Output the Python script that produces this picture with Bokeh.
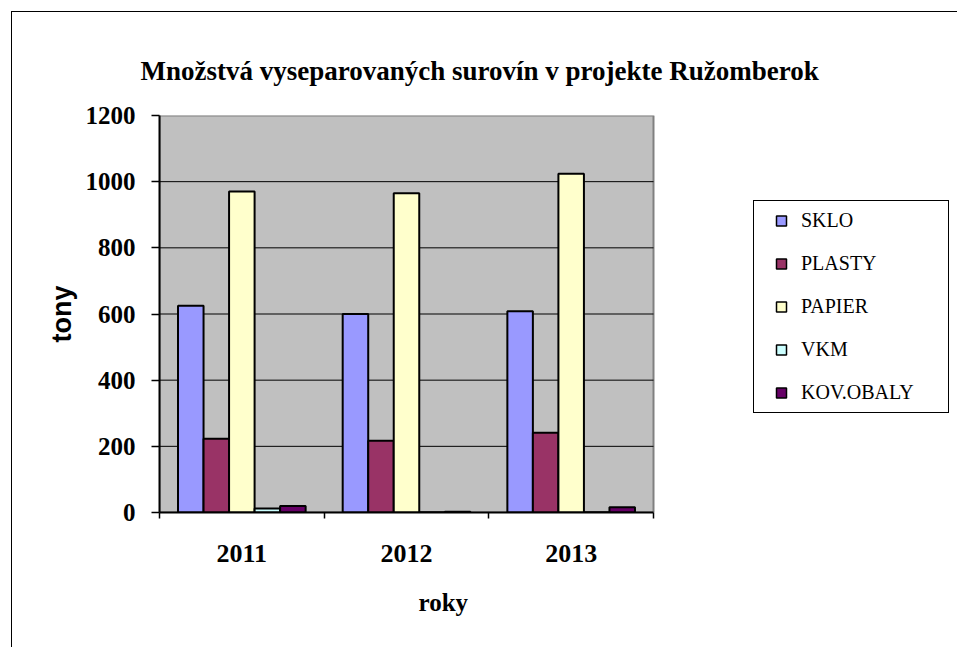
from bokeh.plotting import figure
from bokeh.models import (Range1d, FixedTicker, Legend, LegendItem, Title, BoxAnnotation)
from bokeh.embed import file_html
from bokeh.resources import INLINE

years = ["2011", "2012", "2013"]
series = ["SKLO", "PLASTY", "PAPIER", "VKM", "KOV.OBALY"]
sklo = [625, 600, 608]
plasty = [223, 217, 241]
papier = [970, 965, 1024]
vkm = [12, 1, 1]
kov_obaly = [20, 2, 16]
values = [sklo, plasty, papier, vkm, kov_obaly]
colors = ["#9999FF", "#993366", "#FFFFCC", "#CCFFFF", "#660066"]
y_ticks = [0, 200, 400, 600, 800, 1000, 1200]

n = len(years)
# the frame also covers the legend area; the grey plot area spans x = 0..n
x_end = n * 791 / 494

p = figure(width=946, height=636, output_backend="svg", toolbar_location=None,
           x_range=Range1d(0, x_end), y_range=Range1d(0, 1200),
           min_border_left=147, min_border_right=8, min_border_top=103,
           min_border_bottom=136)
p.styles = {"margin-left": "11px", "margin-top": "11px",
            "border-left": "1px solid black", "border-top": "1px solid black"}

p.background_fill_color = "white"
p.border_fill_color = "white"
p.outline_line_color = None
p.xgrid.grid_line_color = None
p.ygrid.grid_line_color = None

plot_area = BoxAnnotation(left=0, right=n, bottom=0, top=1200,
                          fill_color="#C0C0C0", fill_alpha=1,
                          line_color="#808080", line_alpha=1, line_width=2,
                          level="underlay")
p.add_layout(plot_area)

# horizontal grid lines inside the plot area
grid_y = y_ticks[1:-1]
p.segment(x0=[0] * len(grid_y), x1=[n] * len(grid_y), y0=grid_y, y1=grid_y,
          line_color="black", line_width=1)

bw = 0.155
renderers = []
for i, (name, vals) in enumerate(zip(series, values)):
    xs = [j + 0.5 + (i - 2) * bw for j in range(n)]
    p.vbar(x=xs, top=vals, bottom=0, width=bw, fill_color=colors[i],
           line_color="black", line_width=2)
    # zero-size markers: used only for the legend swatches
    r = p.scatter(x=xs, y=vals, size=0, marker="square", fill_color=colors[i],
                  line_color="black", line_width=1.5)
    renderers.append(r)

# title
p.title.text = "Množstvá vyseparovaných surovín v projekte Ružomberok"
p.title.text_font = "Liberation Serif"
p.title.text_font_style = "bold"
p.title.text_font_size = "27px"
p.title.text_color = "black"
p.title.align = "left"
p.title.offset = -19
p.title.standoff = 60

# x axis
xa = p.xaxis[0]
xa.bounds = (0, n)
xa.ticker = FixedTicker(ticks=[j + 0.5 for j in range(n)],
                        minor_ticks=list(range(n + 1)))
xa.major_label_overrides = {j + 0.5: y for j, y in enumerate(years)}
xa.major_tick_out = 0
xa.major_tick_in = 0
xa.minor_tick_out = 6
xa.minor_tick_in = 0
xa.minor_tick_line_color = "black"
xa.minor_tick_line_width = 1.5
xa.axis_line_color = "black"
xa.axis_line_width = 2
xa.major_label_text_font = "Liberation Serif"
xa.major_label_text_font_style = "bold"
xa.major_label_text_font_size = "26px"
xa.major_label_text_color = "black"
xa.major_label_standoff = 26

roky = Title(text="roky", align="left", offset=259, standoff=44,
             text_font="Liberation Serif", text_font_style="bold",
             text_font_size="25px", text_color="black")
p.add_layout(roky, "below")

# y axis
ya = p.yaxis[0]
ya.ticker = FixedTicker(ticks=y_ticks)
ya.minor_tick_line_color = None
ya.major_tick_out = 8
ya.major_tick_in = 0
ya.major_tick_line_color = "black"
ya.major_tick_line_width = 1.5
ya.axis_line_color = "black"
ya.axis_line_width = 2
ya.major_label_text_font = "Liberation Serif"
ya.major_label_text_font_style = "bold"
ya.major_label_text_font_size = "25px"
ya.major_label_text_color = "black"
ya.major_label_standoff = 16
ya.axis_label = "tony"
ya.axis_label_text_font = "Liberation Sans"
ya.axis_label_text_font_style = "bold"
ya.axis_label_text_font_size = "27px"
ya.axis_label_text_color = "black"
ya.axis_label_standoff = 6

legend = Legend(items=[LegendItem(label=s, renderers=[r]) for s, r in zip(series, renderers)],
                location=(594, 99), orientation="vertical",
                border_line_color="black", border_line_alpha=1, border_line_width=1,
                background_fill_color="white", background_fill_alpha=1,
                padding=7, margin=0, spacing=18, label_height=25,
                glyph_width=40, glyph_height=25, label_standoff=0,
                label_width=140,
                label_text_font="Liberation Serif", label_text_font_size="20px",
                label_text_color="black")
p.add_layout(legend)

open("out.html", "w").write(file_html(p, INLINE))
